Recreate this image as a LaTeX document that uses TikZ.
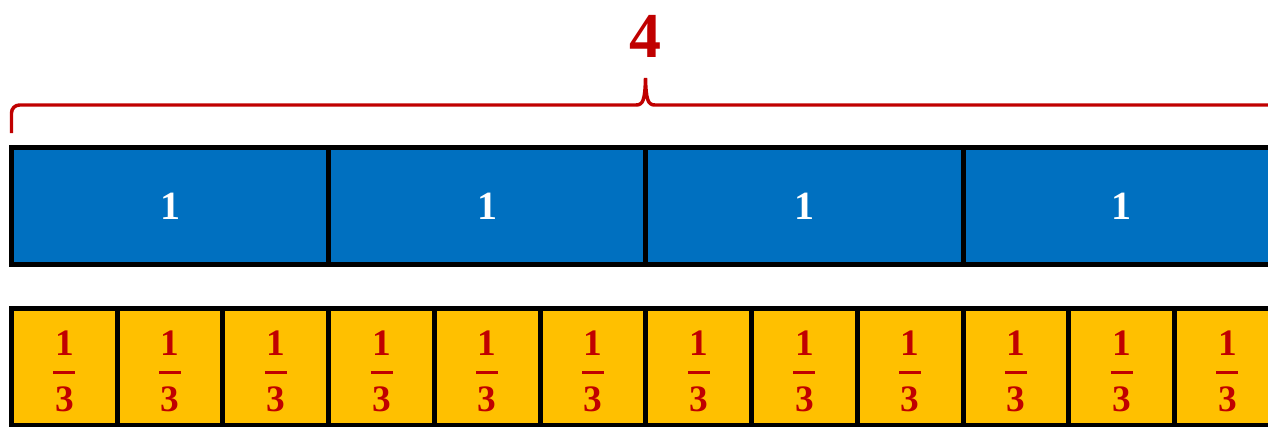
\documentclass[tikz,border=0pt]{standalone}
\usepackage{fontspec}
\usetikzlibrary{calc}
\setmainfont{Liberation Serif}
\definecolor{barblue}{HTML}{0070C0}
\definecolor{baryellow}{HTML}{FFC000}
\definecolor{fracred}{HTML}{C00000}
\tikzset{
  unitbox/.style={draw=black, line width=3.75pt, fill=barblue, minimum width=317.2*0.75pt, minimum height=117*0.75pt, inner sep=0pt, outer sep=0pt, anchor=north west},
  thirdbox/.style={draw=black, line width=3.75pt, fill=baryellow, minimum width=105.73*0.75pt, minimum height=117*0.75pt, inner sep=0pt, outer sep=0pt, anchor=north west},
  onelabel/.style={text=white, font=\fontsize{30}{30}\selectfont\bfseries, inner sep=0pt},
  fraclabel/.style={text=fracred, font=\fontsize{28}{28}\selectfont\bfseries, inner sep=0pt},
  fracbar/.style={draw=fracred, line width=2.25pt},
  bracestyle/.style={draw=fracred, line width=2.6pt, rounded corners=6pt},
  toplabel/.style={text=fracred, font=\fontsize{48}{48}\selectfont\bfseries, inner sep=0pt}
}
\begin{document}
\begin{tikzpicture}[x=0.75pt,y=-0.75pt]
\useasboundingbox (0,0) rectangle (1268,426);
\begin{scope}
\clip (0,0) rectangle (1268,426);
% blue units
\foreach \i in {0,1,2,3} {
  \node[unitbox] (u\i) at ({11.5+317.2*\i},147.5) {};
  \node[onelabel] (ul\i) at (u\i.center) {1};
}
% yellow thirds
\foreach \i in {0,...,11} {
  \node[thirdbox] (t\i) at ({11.5+105.73*\i},308) {};
  \node[fraclabel] (tn\i) at ($(t\i.north)+(0,35)$) {1};
  \node[fraclabel] (td\i) at ($(t\i.north)+(0,91)$) {3};
  \coordinate (bl\i) at ($(t\i.north)+(-11,64.5)$);
  \coordinate (br\i) at ($(t\i.north)+(11,64.5)$);
  \draw[fracbar] (bl\i) -- (br\i);
}
% brace
\coordinate (bs) at (11.5,133);
\coordinate (bc) at (11.5,105);
\coordinate (btip) at (645.5,78);
\coordinate (be) at (1300,105);
\draw[bracestyle] (bs) -- (bc) -- (636,105);
\draw[draw=fracred, line width=2.6pt] (636,105) .. controls (643,105) and (645,100) .. (btip)
  .. controls (646,100) and (648,105) .. (655,105) -- (be);
\end{scope}
\node[toplabel] (four) at (645.5,36) {4};
\end{tikzpicture}
\end{document}
